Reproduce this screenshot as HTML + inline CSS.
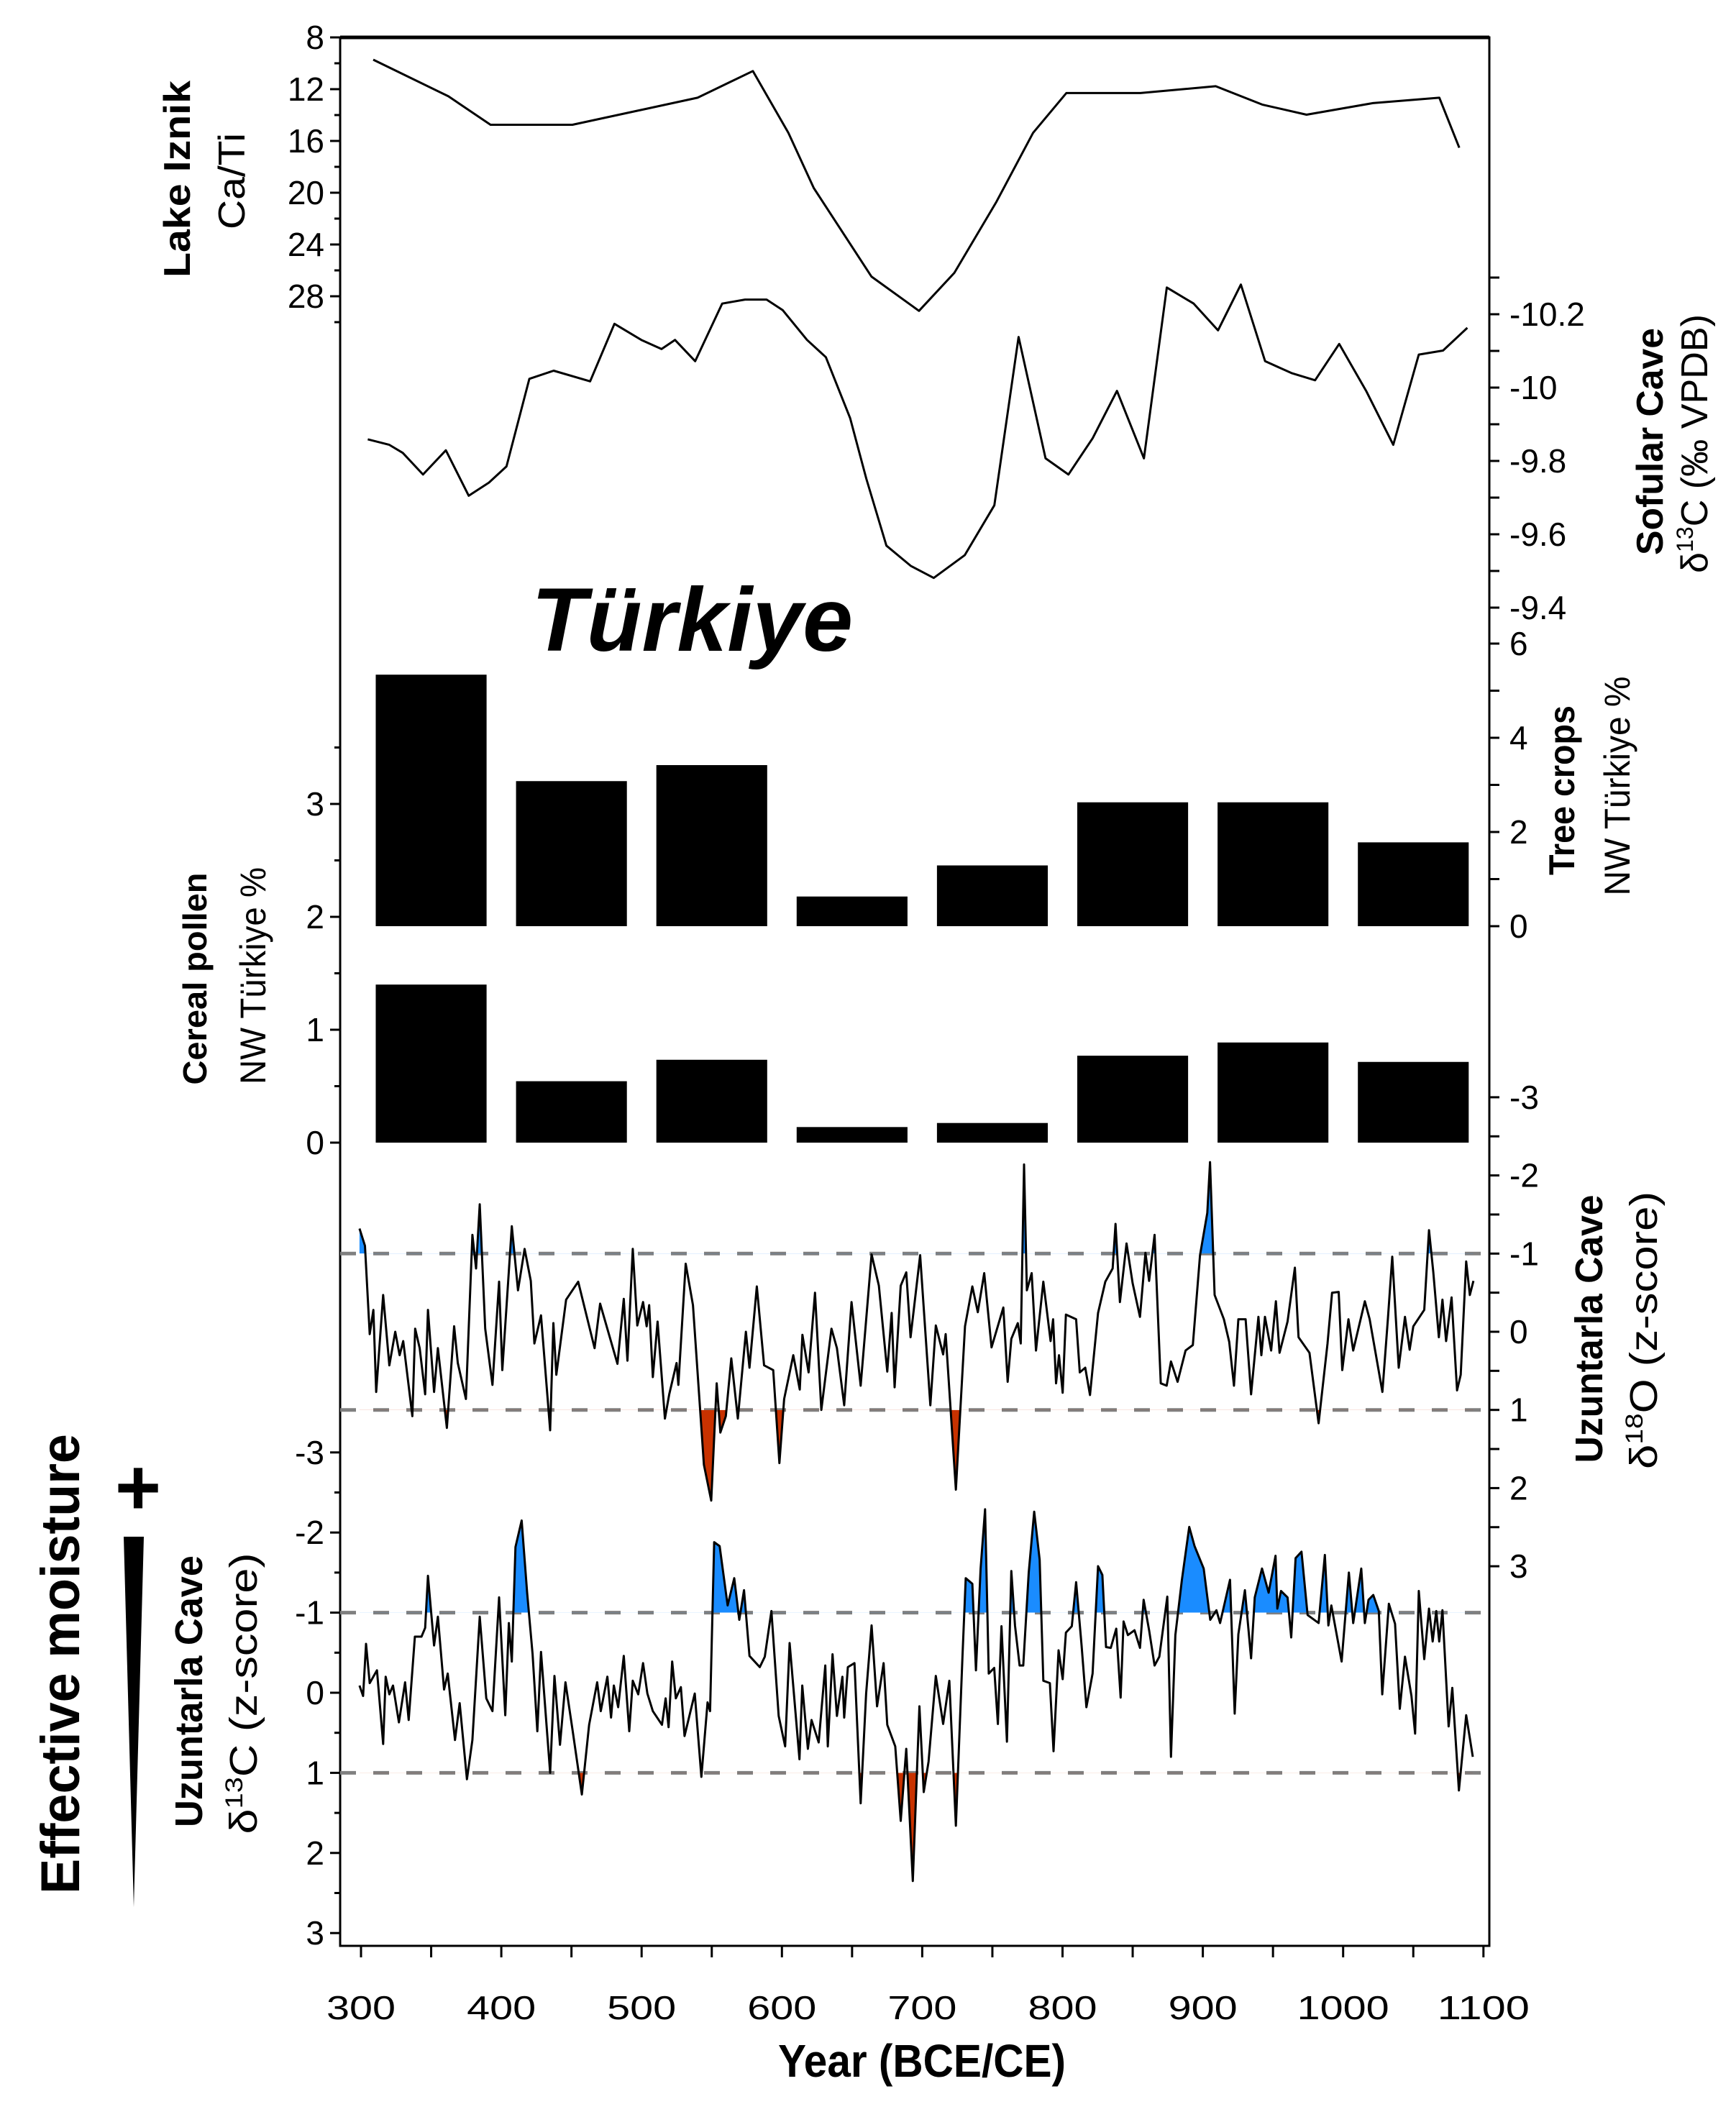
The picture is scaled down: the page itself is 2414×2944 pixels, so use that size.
<!DOCTYPE html>
<html><head><meta charset="utf-8"><style>
html,body{margin:0;padding:0;background:#fff}
svg{display:block}
text{font-family:"Liberation Sans",sans-serif;fill:#000}
.tk{font-family:"Liberation Sans Narrow","Liberation Sans",sans-serif;font-size:46px}
</style></head><body>
<svg id="chart" xmlns="http://www.w3.org/2000/svg" width="2414" height="2944" viewBox="0 0 2414 2944">
<g id="axes"></g>
<g id="marks"></g>
<g id="labels">
<text x="739" y="905" font-size="125" font-weight="bold" font-style="italic" textLength="447" lengthAdjust="spacingAndGlyphs">Türkiye</text>
<text transform="translate(264,249) rotate(-90)" text-anchor="middle" font-size="52" font-weight="bold" textLength="274" lengthAdjust="spacingAndGlyphs">Lake Iznik</text>
<text transform="translate(340,252) rotate(-90)" text-anchor="middle" font-size="52" textLength="134" lengthAdjust="spacingAndGlyphs">Ca/Ti</text>
<text transform="translate(2312,614) rotate(-90)" text-anchor="middle" font-size="52" font-weight="bold" textLength="316" lengthAdjust="spacingAndGlyphs">Sofular Cave</text>
<text transform="translate(2374,617) rotate(-90)" text-anchor="middle" font-size="52" textLength="360" lengthAdjust="spacingAndGlyphs">δ<tspan font-size="32" dy="-20">13</tspan><tspan dy="20">C (‰ VPDB)</tspan></text>
<text transform="translate(2189,1099) rotate(-90)" text-anchor="middle" font-size="50" font-weight="bold" textLength="236" lengthAdjust="spacingAndGlyphs">Tree crops</text>
<text transform="translate(2266,1093) rotate(-90)" text-anchor="middle" font-size="50" textLength="305" lengthAdjust="spacingAndGlyphs">NW Türkiye %</text>
<text transform="translate(287,1361) rotate(-90)" text-anchor="middle" font-size="46" font-weight="bold" textLength="295" lengthAdjust="spacingAndGlyphs">Cereal pollen</text>
<text transform="translate(369,1357) rotate(-90)" text-anchor="middle" font-size="50" textLength="302" lengthAdjust="spacingAndGlyphs">NW Türkiye %</text>
<text transform="translate(2228,1848) rotate(-90)" text-anchor="middle" font-size="54" font-weight="bold" textLength="373" lengthAdjust="spacingAndGlyphs">Uzuntarla Cave</text>
<text transform="translate(2304,1850) rotate(-90)" text-anchor="middle" font-size="54" textLength="386" lengthAdjust="spacingAndGlyphs">δ<tspan font-size="34" dy="-20">18</tspan><tspan dy="20">O (z-score)</tspan></text>
<text transform="translate(281,2352) rotate(-90)" text-anchor="middle" font-size="54" font-weight="bold" textLength="378" lengthAdjust="spacingAndGlyphs">Uzuntarla Cave</text>
<text transform="translate(357,2355) rotate(-90)" text-anchor="middle" font-size="54" textLength="391" lengthAdjust="spacingAndGlyphs">δ<tspan font-size="34" dy="-20">13</tspan><tspan dy="20">C (z-score)</tspan></text>
<text transform="translate(110,2314) rotate(-90)" text-anchor="middle" font-size="76" font-weight="bold" textLength="640" lengthAdjust="spacingAndGlyphs">Effective moisture</text>
<text x="192" y="2106" text-anchor="middle" font-size="110" font-weight="bold">+</text>
<polygon points="172,2137 200,2137 186,2652" fill="#000"/>
<text x="1282" y="2888" text-anchor="middle" font-size="64" font-weight="bold" textLength="400" lengthAdjust="spacingAndGlyphs">Year (BCE/CE)</text>
</g>
</svg>
<script>
// ---- data ----
const cati_years=[308.7,362.3,392.3,450.7,539.9,579.3,604.6,622.7,663.8,697.7,722.9,752.9,779.0,802.7,855.5,909.2,942.3,973.9,1021.2,1068.6,1082.8];
const cati_vals=[9.72,12.55,14.75,14.75,12.66,10.60,15.38,19.64,26.48,29.13,26.19,20.70,15.38,12.30,12.30,11.77,13.19,13.97,13.08,12.66,16.52];
const sof_years=[304.8,320.2,329.8,344.2,360.5,376.8,391.2,403.7,420.0,437.3,463.3,480.6,499.8,514.2,523.8,538.2,557.4,573.7,589.1,600.6,617.9,631.3,648.6,660.1,674.5,691.8,708.2,730.3,751.4,768.7,787.9,804.2,821.5,838.8,858.0,874.3,893.5,910.8,927.1,944.4,963.6,980.0,997.2,1016.4,1035.7,1053.9,1071.2,1088.5];
const sof_vals=[-9.859,-9.844,-9.822,-9.763,-9.829,-9.705,-9.741,-9.785,-10.024,-10.046,-10.017,-10.174,-10.130,-10.105,-10.130,-10.072,-10.229,-10.240,-10.240,-10.211,-10.130,-10.083,-9.917,-9.752,-9.569,-9.514,-9.481,-9.543,-9.679,-10.138,-9.807,-9.763,-9.862,-9.991,-9.807,-10.273,-10.229,-10.156,-10.281,-10.072,-10.039,-10.020,-10.119,-9.991,-9.844,-10.090,-10.101,-10.163];
const bar_centers=[350,450,550,650,750,850,950,1050];
const tree_vals=[5.34,3.08,3.42,0.63,1.29,2.63,2.63,1.78];
const cereal_vals=[1.40,0.544,0.734,0.138,0.174,0.77,0.887,0.715];
const o18_years=[298.9,302.8,306.2,308.8,310.8,315.8,320.2,324.4,327.5,330.1,336.6,338.6,341.8,345.7,347.7,352.1,354.8,361.2,366.4,369.0,374.8,379.4,382.0,384.6,388.5,393.7,398.4,400.7,407.5,411.9,416.6,421.0,423.6,428.3,434.8,437.1,439.2,446.2,454.8,466.5,470.4,482.8,487.3,489.9,493.7,496.9,501.0,503.6,505.4,508.0,511.4,516.6,519.7,524.9,526.2,531.4,536.6,544.4,549.6,553.5,556.1,560.0,563.9,568.6,574.3,576.9,582.1,587.3,593.8,598.2,601.6,608.1,612.7,614.6,619.0,623.6,628.1,635.3,639.2,644.4,649.6,656.1,663.9,669.1,675.1,678.2,680.3,684.7,688.6,691.7,698.5,705.8,709.7,714.9,716.7,724.0,730.5,735.7,739.6,744.2,749.4,757.8,760.9,763.5,768.1,770.2,772.6,774.6,778.0,781.1,786.3,791.5,793.3,795.4,797.5,800.1,802.4,809.7,812.3,816.2,819.6,825.3,830.5,835.7,837.8,840.9,845.6,850.0,855.2,859.1,861.7,865.6,870.0,874.2,877.3,882.0,887.7,892.9,898.0,903.2,905.1,908.4,915.0,918.8,922.2,925.3,930.5,934.4,939.6,941.7,944.3,948.7,952.1,954.7,960.4,965.6,968.2,976.0,982.5,988.9,992.1,996.8,999.4,1003.8,1007.2,1015.5,1018.9,1028.0,1031.9,1035.0,1039.6,1044.1,1047.4,1050.0,1057.8,1061.2,1064.3,1068.2,1070.8,1073.4,1077.3,1081.2,1083.8,1087.7,1090.3,1092.9];
const o18_vals=[-1.32,-1.10,0.03,-0.28,0.77,-0.47,0.43,0.0,0.30,0.12,1.08,-0.04,0.21,0.80,-0.28,0.77,0.21,1.23,-0.07,0.40,0.86,-1.24,-0.81,-1.63,-0.04,0.68,-0.64,0.49,-1.35,-0.53,-1.06,-0.65,0.15,-0.21,1.26,-0.11,0.55,-0.41,-0.64,0.21,-0.36,0.41,-0.42,0.37,-1.06,-0.08,-0.38,-0.07,-0.34,0.58,-0.13,1.11,0.80,0.40,0.68,-0.87,-0.34,1.70,2.16,0.66,1.29,1.08,0.34,1.11,0.0,0.46,-0.58,0.43,0.49,1.68,0.86,0.30,0.74,0.04,0.52,-0.50,1.0,-0.04,0.21,0.94,-0.38,0.69,-0.99,-0.59,0.51,-0.24,0.71,-0.59,-0.76,0.07,-0.98,0.94,-0.08,0.29,0.03,2.02,-0.07,-0.58,-0.25,-0.75,0.20,-0.31,0.64,0.09,-0.11,0.15,-2.14,-0.53,-0.75,0.24,-0.64,0.12,-0.16,0.66,0.30,0.78,-0.22,-0.16,0.52,0.46,0.81,-0.24,-0.64,-0.81,-1.38,-0.38,-1.13,-0.62,-0.19,-1.01,-0.65,-1.24,0.66,0.69,0.38,0.64,0.24,0.17,-0.98,-1.52,-2.17,-0.47,-0.16,0.13,0.69,-0.16,-0.16,0.80,-0.19,0.30,-0.19,0.24,-0.39,0.27,-0.13,-0.82,0.07,0.27,1.17,0.15,-0.50,-0.51,0.49,-0.16,0.24,-0.39,-0.16,0.77,-0.16,-0.96,0.46,-0.19,0.23,-0.07,-0.28,-1.30,-0.76,0.07,-0.41,0.12,-0.44,0.75,0.55,-0.90,-0.47,-0.65];
const c13_years=[298.9,301.5,303.6,306.2,311.4,315.8,317.6,320.2,322.8,327.0,331.4,334.0,338.4,343.1,345.7,347.7,352.1,354.8,359.2,361.8,367.0,370.3,375.5,379.4,384.6,389.3,393.7,398.4,402.8,405.4,407.5,410.1,414.5,418.4,422.3,425.7,428.3,434.8,437.9,441.8,445.7,450.9,457.4,462.6,468.3,470.9,475.6,478.2,480.2,483.3,487.3,491.2,493.7,497.6,501.0,504.1,508.0,514.5,517.1,519.2,521.8,524.4,528.0,530.6,537.9,542.6,547.0,548.8,551.7,555.6,561.3,566.0,569.6,573.0,576.9,584.2,587.8,592.5,597.7,602.3,605.5,612.5,614.5,618.5,621.1,626.2,630.9,632.7,636.1,639.2,643.1,644.4,647.0,651.7,656.1,660.0,663.9,667.8,672.5,675.1,680.8,684.7,688.6,693.3,698.0,701.1,704.5,709.7,714.9,719.3,724.0,728.7,731.0,735.7,738.3,741.6,744.8,747.4,751.3,753.9,756.5,760.4,763.5,766.1,769.4,772.0,775.9,779.8,783.7,786.3,791.0,793.6,797.2,800.1,802.4,806.6,809.7,813.6,817.0,821.4,825.3,828.4,831.0,834.4,838.3,841.4,843.5,846.6,851.3,855.2,857.8,861.7,865.6,869.0,874.7,877.3,880.4,885.1,890.3,894.1,900.6,905.3,909.7,912.3,919.4,922.7,925.3,930.0,934.4,937.0,942.2,946.9,951.8,953.1,955.7,960.4,963.0,966.1,970.3,974.7,982.5,987.0,989.5,991.6,998.9,1004.1,1007.2,1012.9,1015.5,1018.1,1021.5,1025.4,1027.9,1032.6,1037.0,1040.4,1044.1,1048.7,1051.3,1053.9,1057.8,1061.2,1063.8,1066.4,1068.5,1070.8,1075.2,1077.8,1082.5,1087.7,1092.4];
const c13_vals=[-0.09,0.04,-0.61,-0.12,-0.28,0.64,-0.20,0.02,-0.09,0.37,-0.13,0.34,-0.70,-0.70,-0.81,-1.46,-0.59,-0.95,-0.04,-0.24,0.59,0.13,1.08,0.59,-0.95,0.07,0.23,-1.19,0.28,-0.87,-0.39,-1.82,-2.15,-1.25,-0.48,0.48,-0.51,1.0,-0.21,0.65,-0.13,0.48,1.27,0.40,-0.13,0.23,-0.20,0.31,-0.09,0.18,-0.46,0.48,-0.15,0.02,-0.37,0.01,0.23,0.40,0.07,0.43,-0.39,0.07,-0.07,0.54,0.01,1.05,0.12,0.23,-1.88,-1.83,-1.09,-1.43,-0.91,-1.28,-0.46,-0.32,-0.45,-1.02,0.29,0.67,-0.62,0.83,-0.09,0.70,0.34,0.62,-0.34,0.67,-0.48,0.29,-0.20,0.31,-0.32,-0.37,1.38,0.01,-0.84,0.17,-0.37,0.40,0.67,1.60,0.70,2.35,0.17,1.24,0.86,-0.21,0.39,-0.15,1.66,-0.46,-1.43,-1.36,-0.28,-1.55,-2.29,-0.24,-0.31,0.39,-0.83,0.61,-1.52,-0.84,-0.34,-0.34,-1.50,-2.26,-1.66,-0.15,-0.12,0.73,-0.53,-0.17,-0.75,-0.83,-1.38,-0.59,0.18,-0.24,-1.58,-1.47,-0.57,-0.56,-0.80,0.06,-0.89,-0.72,-0.78,-0.56,-1.16,-0.78,-0.34,-0.45,-1.20,0.80,-0.72,-1.41,-2.07,-1.83,-1.55,-0.91,-1.03,-0.87,-1.41,0.26,-0.73,-1.28,-0.43,-1.19,-1.55,-1.25,-1.71,-1.05,-1.27,-1.19,-0.69,-1.68,-1.76,-0.97,-0.87,-1.72,-0.84,-1.09,-0.39,-1.50,-0.87,-1.55,-0.87,-1.16,-1.22,-1.02,0.02,-1.11,-0.86,0.20,-0.45,0.04,0.51,-1.27,-0.42,-1.05,-0.64,-1.02,-0.64,-1.03,0.42,-0.06,1.22,0.28,0.80];
const x_ticks=[300,400,500,600,700,800,900,1000,1100];
const cati_ticks=[8,12,16,20,24,28];
const sof_ticks=[-10.2,-10,-9.8,-9.6,-9.4];
const tree_ticks=[0,2,4,6];
const cereal_ticks=[0,1,2,3];
const o18_ticks=[-3,-2,-1,0,1,2,3];
const c13_ticks=[-3,-2,-1,0,1,2,3];

// ---- scales ----
const PL=473,PR=2071,PT=52,PB=2706;
const X=y=>502+(y-300)*1.951;
const Ycati=v=>52+(v-8)*18;
const Ysof=v=>437+(v+10.2)*510;
const Ytree=v=>1288-v*65.5;
const Ycer=v=>1589-v*157;
const Yo18=v=>1852+v*108.7;
const Yc13=v=>2354+v*111.4;
const NS='http://www.w3.org/2000/svg';
const axes=document.getElementById('axes'),marks=document.getElementById('marks');
function mk(tag,parent,attrs){const e=document.createElementNS(NS,tag);for(const k in attrs)e.setAttribute(k,attrs[k]);parent.appendChild(e);return e;}

let e=mk('rect',axes,{x:PL,y:PT,width:PR-PL,height:PB-PT,fill:'none',stroke:'#000','stroke-width':3});


e=mk('line',axes,{x1:PL,x2:PR,y1:PT,y2:PT,stroke:'#000','stroke-width':5});



function tickLine(x1,y1,x2,y2,name){const t=mk('line',axes,{x1:x1,y1:y1,x2:x2,y2:y2,stroke:'#000','stroke-width':3});

}
function label(x,y,txt,anchor,name,size,len){const t=mk('text',axes,{x:x,y:y,'text-anchor':anchor,'class':'tk'});if(size)t.setAttribute('font-size',size);if(len){t.setAttribute('textLength',len);t.setAttribute('lengthAdjust','spacingAndGlyphs');}t.textContent=txt;

}

for(let yr=300;yr<=1100;yr+=50)tickLine(X(yr),PB,X(yr),PB+16,'x-tick');
x_ticks.forEach(v=>label(X(v),2808,String(v),'middle','x-tick-label',62,String(v).length*32));
function leftAxis(lo,hi,step,Y,ticks,name){for(let v=lo;v<=hi+1e-9;v+=step){tickLine(PL-(Math.abs(v-Math.round(v/(step*2))*step*2)<1e-6?14:8),Y(v),PL,Y(v),name+'-tick');}
ticks.forEach(v=>label(PL-22,Y(v)+16,String(v),'end',name+'-tick-label'));}
function rightAxis(lo,hi,step,Y,ticks,name){for(let v=lo;v<=hi+1e-9;v+=step){tickLine(PR,Y(v),PR+14,Y(v),name+'-tick');}
ticks.forEach(v=>label(PR+28,Y(v)+16,String(v),'start',name+'-tick-label'));}
leftAxis(8,30,2,Ycati,cati_ticks,'cati');
leftAxis(0,3.5,0.5,Ycer,cereal_ticks,'cereal');
leftAxis(-3,3,0.5,Yc13,c13_ticks,'d13c');
rightAxis(-10.3,-9.4,0.1,Ysof,sof_ticks,'sofular');
rightAxis(0,6,1,Ytree,tree_ticks,'tree');
rightAxis(-3,3,0.5,Yo18,o18_ticks,'d18o');

[[Yo18(-1),'d18o-threshold-dry'],[Yo18(1),'d18o-threshold-wet'],[Yc13(-1),'d13c-threshold-dry'],[Yc13(1),'d13c-threshold-wet']].forEach(d=>{
const l=mk('line',marks,{x1:PL,x2:PR,y1:d[0],y2:d[0],stroke:'#808080','stroke-width':5,'stroke-dasharray':'22 24'});

});

const bw=79*1.951;
bar_centers.forEach((c,i)=>{
let r=mk('rect',marks,{x:X(c)-bw/2,y:Ytree(tree_vals[i]),width:bw,height:Ytree(0)-Ytree(tree_vals[i]),fill:'#000'});


r=mk('rect',marks,{x:X(c)-bw/2,y:Ycer(cereal_vals[i]),width:bw,height:Ycer(0)-Ycer(cereal_vals[i]),fill:'#000'});

});

function pts(xs,vs,Y){return xs.map((x,i)=>X(x).toFixed(1)+','+Y(vs[i]).toFixed(1));}
function line(xs,vs,Y,name){const p=mk('polyline',marks,{points:pts(xs,vs,Y).join(' '),fill:'none',stroke:'#000','stroke-width':3,'stroke-linejoin':'round'});

}
let cid=0;
function fills(xs,vs,Y,name){
const defs=mk('defs',marks,{});
[[-1,'#1a8cff',0,Y(-1)],[1,'#c83200',Y(1),2944]].forEach(f=>{
const id='cl'+(cid++);const cp=mk('clipPath',defs,{id:id});mk('rect',cp,{x:0,y:f[2],width:2414,height:f[3]-f[2]});
const yb=Y(f[0]);const p=pts(xs,vs,Y);p.push(X(xs[xs.length-1]).toFixed(1)+','+yb,X(xs[0]).toFixed(1)+','+yb);
const g=mk('polygon',marks,{points:p.join(' '),fill:f[1],'clip-path':'url(#'+id+')'});

});}
fills(o18_years,o18_vals,Yo18,'d18o');
fills(c13_years,c13_vals,Yc13,'d13c');
line(cati_years,cati_vals,Ycati,'lake-iznik-line');
line(sof_years,sof_vals,Ysof,'sofular-line');
line(o18_years,o18_vals,Yo18,'d18o-line');
line(c13_years,c13_vals,Yc13,'d13c-line');
</script>
</body></html>
